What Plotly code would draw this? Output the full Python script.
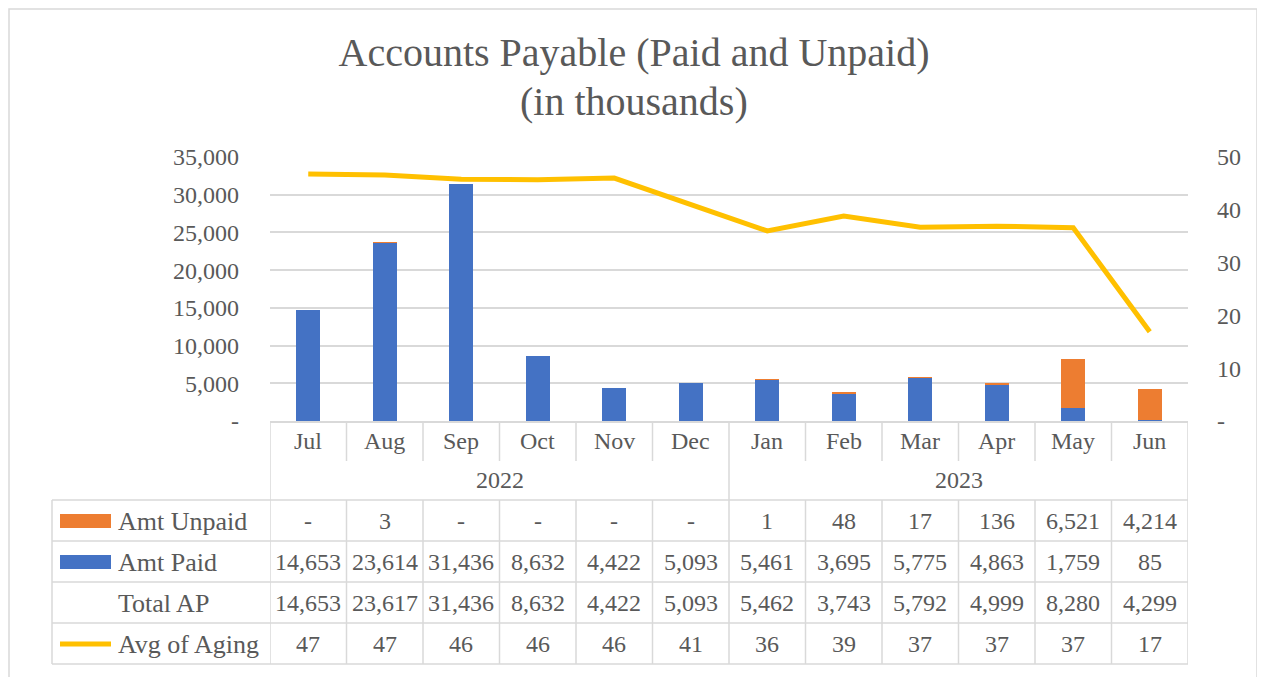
import plotly.graph_objects as go

# ---------------- data ----------------
months = ["Jul", "Aug", "Sep", "Oct", "Nov", "Dec", "Jan", "Feb", "Mar", "Apr", "May", "Jun"]
years = ["2022", "2023"]
year_spans = [(0, 5), (6, 11)]
amt_unpaid = [0, 3, 0, 0, 0, 0, 1, 48, 17, 136, 6521, 4214]
amt_paid = [14653, 23614, 31436, 8632, 4422, 5093, 5461, 3695, 5775, 4863, 1759, 85]
total_ap = [p + u for p, u in zip(amt_paid, amt_unpaid)]
avg_aging = [46.8, 46.6, 45.8, 45.7, 46.0, 40.9, 36.0, 38.8, 36.7, 36.9, 36.6, 16.9]
left_ticks = [0, 5000, 10000, 15000, 20000, 25000, 30000, 35000]
left_tick_text = ["-", "5,000", "10,000", "15,000", "20,000", "25,000", "30,000", "35,000"]
right_ticks = [0, 10, 20, 30, 40, 50]
right_tick_text = ["-", "10", "20", "30", "40", "50"]
row_labels = ["Amt Unpaid", "Amt Paid", "Total AP", "Avg of Aging"]

# ---------------- style ----------------
BLUE = "#4472C4"
ORANGE = "#ED7D31"
GOLD = "#FFC000"
GRID = "#D9D9D9"
TXT = "#595959"
FONT = "'Palatino Linotype', 'Book Antiqua', Palatino, 'Liberation Serif', serif"
FS = 24       # numbers / ticks
FS_LAB = 26   # row labels
FS_TITLE = 40

OFF = 8  # page body margin
W, H = 1265 - OFF, 677 - OFF
L, R, T, B = 270 - OFF, 1188 - OFF, 157 - OFF, 421 - OFF


def pxx(x):
    return (x - OFF - L) / (R - L)


def pxy(y):
    return (B - (y - OFF)) / (B - T)


def fmt(v):
    if round(v) == 0:
        return "-"
    return f"{v:,.0f}"


fig = go.Figure()
fig.add_trace(go.Bar(x=months, y=amt_paid, name="Amt Paid", marker_color=BLUE,
                     marker_line_width=0))
fig.add_trace(go.Bar(x=months, y=amt_unpaid, name="Amt Unpaid", marker_color=ORANGE,
                     marker_line_width=0))
fig.add_trace(go.Scatter(x=months, y=avg_aging, name="Avg of Aging", mode="lines",
                         line=dict(color=GOLD, width=5), yaxis="y2"))

shapes = []
annotations = []
gl = dict(color=GRID, width=1.5)

# category header separators
for k in range(len(months) + 1):
    xb = k - 0.5
    full = k in (0, 6, 12)
    shapes.append(dict(type="line", xref="x", yref="paper", x0=xb, x1=xb,
                       y0=pxy(421), y1=pxy(500 if full else 461), line=gl))
    shapes.append(dict(type="line", xref="x", yref="paper", x0=xb, x1=xb,
                       y0=pxy(500), y1=pxy(664), line=gl))

# horizontal table lines
for yy in [500, 541, 582, 623, 664]:
    shapes.append(dict(type="line", xref="paper", yref="paper", x0=pxx(52), x1=pxx(1188),
                       y0=pxy(yy), y1=pxy(yy), line=gl))
shapes.append(dict(type="line", xref="paper", yref="paper", x0=pxx(52), x1=pxx(52),
                   y0=pxy(500), y1=pxy(664), line=gl))

# outer chart border
shapes.append(dict(type="rect", xref="paper", yref="paper", x0=pxx(9), x1=pxx(1257),
                   y0=pxy(9), y1=pxy(700), line=dict(color=GRID, width=1.5)))

# legend keys
shapes.append(dict(type="rect", xref="paper", yref="paper", x0=pxx(60), x1=pxx(111),
                   y0=pxy(514), y1=pxy(528), fillcolor=ORANGE, line=dict(width=0)))
shapes.append(dict(type="rect", xref="paper", yref="paper", x0=pxx(60), x1=pxx(111),
                   y0=pxy(555), y1=pxy(569), fillcolor=BLUE, line=dict(width=0)))
shapes.append(dict(type="line", xref="paper", yref="paper", x0=pxx(60), x1=pxx(111),
                   y0=pxy(644), y1=pxy(644), line=dict(color=GOLD, width=5)))


def ann(x, y, text, xref="x", size=FS, xanchor="center"):
    annotations.append(dict(x=x, y=y, xref=xref, yref="paper", text=text,
                            xanchor=xanchor, yanchor="middle", showarrow=False,
                            font=dict(size=size, color=TXT, family=FONT)))


# month labels
for i, m in enumerate(months):
    ann(i, pxy(441), m)
# year labels
for yl, (a, b) in zip(years, year_spans):
    ann((a + b) / 2, pxy(480), yl)

# table rows
rows = [
    [fmt(v) for v in amt_unpaid],
    [fmt(v) for v in amt_paid],
    [fmt(v) for v in total_ap],
    [fmt(v) for v in avg_aging],
]
row_y = [521, 562, 603, 644]
for lab, vals, yy in zip(row_labels, rows, row_y):
    ann(pxx(116), pxy(yy), lab, xref="paper", size=FS_LAB, xanchor="left")
    for i, v in enumerate(vals):
        ann(i, pxy(yy), v)

# second title line
ann(pxx(634), pxy(101), "(in thousands)", xref="paper", size=FS_TITLE)

fig.update_layout(
    width=W, height=H,
    margin=dict(l=L, r=W - R, t=T, b=H - B, pad=0),
    paper_bgcolor="white", plot_bgcolor="white",
    barmode="stack", bargap=0.69, showlegend=False,
    title=dict(text="Accounts Payable (Paid and Unpaid)", x=(634 - OFF) / W, xanchor="center",
               y=1 - (52 - OFF) / H, yanchor="middle",
               font=dict(size=FS_TITLE, color=TXT, family=FONT)),
    font=dict(family=FONT, color=TXT, size=FS),
    xaxis=dict(range=[-0.5, 11.5], showticklabels=False, ticks="", showgrid=False,
               showline=True, linecolor=GRID, linewidth=1.5, zeroline=False),
    yaxis=dict(range=[0, 35000], tickvals=left_ticks, ticktext=left_tick_text,
               showgrid=True, gridcolor=GRID, gridwidth=1.5, zeroline=False,
               ticks="", ticklabelstandoff=30, tickfont=dict(size=FS, color=TXT, family=FONT)),
    yaxis2=dict(range=[0, 50], tickvals=right_ticks, ticktext=right_tick_text,
                overlaying="y", side="right", showgrid=False, zeroline=False,
                ticks="", ticklabelstandoff=28, tickfont=dict(size=FS, color=TXT, family=FONT)),
    shapes=shapes, annotations=annotations,
)

fig.write_html("out.html")
